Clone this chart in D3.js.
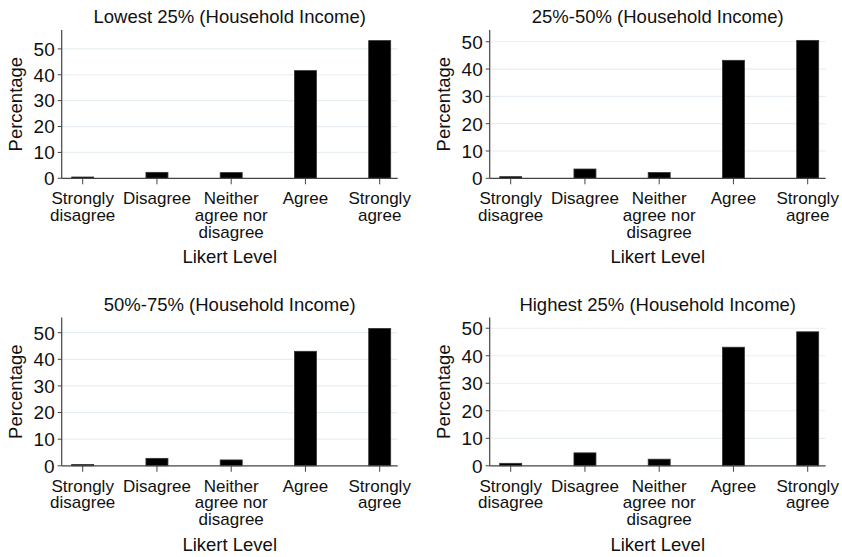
<!DOCTYPE html>
<meta charset="utf-8">
<title>Likert Level by Household Income</title>
<style>
  body { margin: 0; background: #fff; }
  text { font-family: "Liberation Sans", Arial, sans-serif; fill: #111; }
</style>
<body>
<script src="https://d3js.org/d3.v7.min.js"></script>
<script>

var width = 842,
    height = 557;

// categories on the x axis and the wrapped tick labels
var categories = ["Strongly disagree", "Disagree", "Neither agree nor disagree", "Agree", "Strongly agree"];
var tickLabels = [["Strongly", "disagree"], ["Disagree"], ["Neither", "agree nor", "disagree"], ["Agree"], ["Strongly", "agree"]];

var panelTitles = ["Lowest 25% (Household Income)", "25%-50% (Household Income)",
                   "50%-75% (Household Income)", "Highest 25% (Household Income)"];

// percentages per income group
var lowest  = [0.5, 2.3, 2.2, 41.6, 53.2];
var second  = [0.6, 3.4, 2.1, 43.2, 50.5];
var third   = [0.5, 2.8, 2.2, 43.0, 51.6];
var highest = [0.9, 4.7, 2.4, 43.1, 48.7];

var yTicks = [0, 10, 20, 30, 40, 50];
var axisMax = [57.3, 54.3, 55.7, 53.9];

var series = [lowest, second, third, highest];

// panel layout
var origins = [[0, 0], [428, 0], [0, 287.5], [428, 287.5]];
var plotLeft = 61.7, plotRight = 397.7, plotTop = 30, plotH = 148.3,
    barW = 22;

var svg = d3.select("body").append("svg")
    .attr("width", width)
    .attr("height", height);

series.forEach(function(vals, i) {
  var g = svg.append("g")
      .attr("transform", "translate(" + origins[i][0] + "," + origins[i][1] + ")");

  var x = d3.scalePoint()
      .domain(categories)
      .range([plotLeft + 21, plotRight - 18]);

  var y = d3.scaleLinear()
      .domain([0, axisMax[i]])
      .range([plotTop + plotH, plotTop]);

  var bottom = plotTop + plotH;

  // gridlines
  g.selectAll(".grid")
      .data(yTicks.filter(function(d) { return d > 0; }))
    .enter().append("line")
      .attr("x1", plotLeft).attr("x2", plotRight)
      .attr("y1", function(d) { return y(d); })
      .attr("y2", function(d) { return y(d); })
      .attr("stroke", "#e7eef2")
      .attr("stroke-width", 1.2);

  // bars
  g.selectAll(".bar")
      .data(vals)
    .enter().append("rect")
      .attr("x", function(d, j) { return x(categories[j]) - barW / 2; })
      .attr("y", function(d) { return y(d); })
      .attr("width", barW)
      .attr("height", function(d) { return bottom - y(d); })
      .attr("fill", "#000")
      .attr("stroke", "#333")
      .attr("stroke-width", 0.8);

  // axes lines
  g.append("line")
      .attr("x1", plotLeft).attr("x2", plotLeft)
      .attr("y1", plotTop).attr("y2", bottom)
      .attr("stroke", "#444").attr("stroke-width", 1.2);
  g.append("line")
      .attr("x1", plotLeft).attr("x2", plotRight)
      .attr("y1", bottom).attr("y2", bottom)
      .attr("stroke", "#444").attr("stroke-width", 1.2);

  // y ticks
  var yt = g.selectAll(".ytick")
      .data(yTicks)
    .enter().append("g")
      .attr("transform", function(d) { return "translate(" + plotLeft + "," + y(d) + ")"; });
  yt.append("line")
      .attr("x1", -4).attr("x2", 0)
      .attr("stroke", "#444");
  yt.append("text")
      .attr("x", -7)
      .attr("dy", "0.36em")
      .attr("text-anchor", "end")
      .style("font-size", "19px")
      .text(function(d) { return d; });

  // x ticks
  var xt = g.selectAll(".xtick")
      .data(categories)
    .enter().append("g")
      .attr("transform", function(d) { return "translate(" + x(d) + "," + bottom + ")"; });
  xt.append("line")
      .attr("y1", 0).attr("y2", 6)
      .attr("stroke", "#444");
  xt.append("text")
      .attr("text-anchor", "middle")
      .style("font-size", "17px")
      .selectAll("tspan")
      .data(function(d, j) { return tickLabels[j]; })
    .enter().append("tspan")
      .attr("x", 0)
      .attr("y", function(d, k) { return 26 + k * 16.7; })
      .text(function(d) { return d; });

  // titles
  g.append("text")
      .attr("x", (plotLeft + plotRight) / 2)
      .attr("y", plotTop - 7)
      .attr("text-anchor", "middle")
      .style("font-size", "18.5px")
      .text(panelTitles[i]);

  g.append("text")
      .attr("x", (plotLeft + plotRight) / 2)
      .attr("y", bottom + 85)
      .attr("text-anchor", "middle")
      .style("font-size", "18.5px")
      .text("Likert Level");

  g.append("text")
      .attr("transform", "translate(" + (plotLeft - 39.3) + "," + (plotTop + plotH / 2) + ") rotate(-90)")
      .attr("text-anchor", "middle")
      .style("font-size", "18.5px")
      .text("Percentage");
});

</script>
</body>
